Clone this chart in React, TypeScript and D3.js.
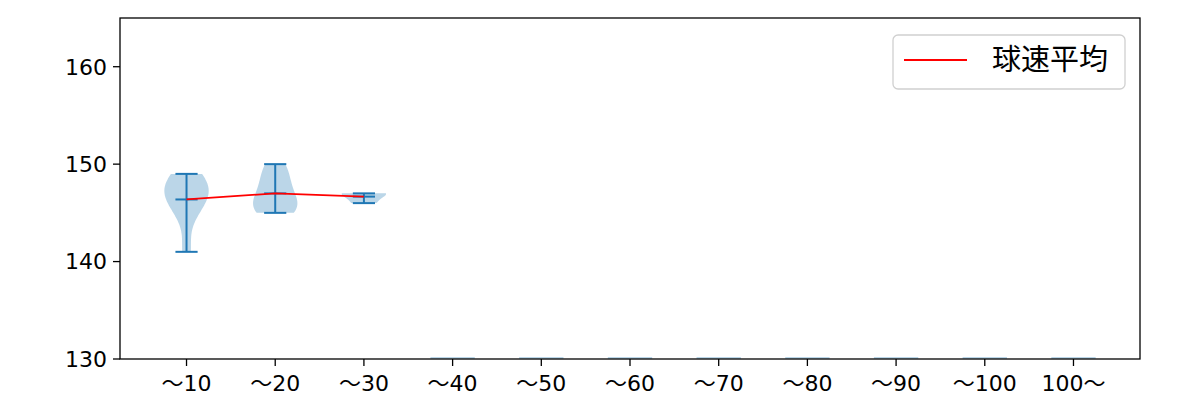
import React from "react";
import * as d3 from "d3";

const categories = ["〜10", "〜20", "〜30", "〜40", "〜50", "〜60", "〜70", "〜80", "〜90", "〜100", "100〜"];
const speeds10 = [141, 145, 146, 147, 147, 148, 148, 149];
const speeds20 = [145, 145, 146, 146, 147, 148, 149, 150];
const speeds30 = [146, 147, 147];
const pitchData: number[][] = [speeds10, speeds20, speeds30, [], [], [], [], [], [], [], []];
const yTicks = [130, 140, 150, 160];
const legendLabel = "球速平均";

const W = 1200, H = 400;
const L = 120, R = 1140, T = 18, B = 359;
const FONT = "'DejaVu Sans', 'Noto Sans CJK JP', sans-serif";
const BLUE = "#1f77b4";
const TICK = 7;

function kdeProfile(vals: number[]) {
  const n = vals.length;
  const mean = d3.mean(vals)!;
  const sd = n > 1 ? Math.sqrt(d3.sum(vals, (v) => (v - mean) ** 2) / (n - 1)) : 1;
  const bw = sd * Math.pow(n, -1 / 5);
  const lo = d3.min(vals)!, hi = d3.max(vals)!;
  const pts = d3.range(100).map((i) => lo + ((hi - lo) * i) / 99);
  const dens = pts.map((p) => d3.sum(vals, (v) => Math.exp(-((p - v) ** 2) / (2 * bw * bw))));
  const m = d3.max(dens)!;
  return pts.map((p, i) => ({ v: p, w: dens[i] / m }));
}

export default function App() {
  const x = d3.scaleLinear().domain([0.25, 11.75]).range([L, R]);
  const y = d3.scaleLinear().domain([130, 165]).range([B, T]);
  const half = x(1.25) - x(1);
  const cap = x(1.125) - x(1);

  const means = pitchData
    .map((d, i) => (d.length ? { pos: i + 1, m: d3.mean(d)! } : null))
    .filter((d) => d !== null) as { pos: number; m: number }[];
  const meanLine = d3
    .line<{ pos: number; m: number }>()
    .x((d) => x(d.pos))
    .y((d) => y(d.m));

  return (
    <svg width={W} height={H} style={{ position: "absolute", left: 0, top: 0, background: "#fff" }} fontFamily={FONT}>
      <rect x={0} y={0} width={W} height={H} fill="#fff" />
      {pitchData.map((d, i) => {
        const cx = x(i + 1);
        if (!d.length) {
          return (
            <rect key={i} x={cx - half} y={y(130) - 2} width={2 * half} height={2} fill={BLUE} opacity={0.3} />
          );
        }
        const prof = kdeProfile(d);
        const area = d3
          .area<{ v: number; w: number }>()
          .y((p) => y(p.v))
          .x0((p) => cx - p.w * half)
          .x1((p) => cx + p.w * half);
        const mn = d3.min(d)!, mx = d3.max(d)!, me = d3.mean(d)!;
        return (
          <g key={i}>
            <path d={area(prof)!} fill={BLUE} fillOpacity={0.3} stroke="none" />
            <line x1={cx} x2={cx} y1={y(mn)} y2={y(mx)} stroke={BLUE} strokeWidth={2} />
            {[mn, mx, me].map((v, k) => (
              <line key={k} x1={cx - cap} x2={cx + cap} y1={y(v)} y2={y(v)} stroke={BLUE} strokeWidth={2} />
            ))}
          </g>
        );
      })}
      <path d={meanLine(means)!} fill="none" stroke="red" strokeWidth={1.8} />
      <rect x={L} y={T} width={R - L} height={B - T} fill="none" stroke="#000" strokeWidth={1.3} />
      {yTicks.map((t) => (
        <g key={t}>
          <line x1={L - TICK} x2={L} y1={y(t)} y2={y(t)} stroke="#000" strokeWidth={1.3} />
          <text x={L - TICK - 6} y={y(t)} dy="0.36em" textAnchor="end" fontSize={22}>
            {t}
          </text>
        </g>
      ))}
      {categories.map((c, i) => (
        <g key={c}>
          <line x1={x(i + 1)} x2={x(i + 1)} y1={B} y2={B + TICK} stroke="#000" strokeWidth={1.3} />
          <text x={x(i + 1)} y={B + TICK + 7} dy="0.8em" textAnchor="middle" fontSize={22}>
            {c}
          </text>
        </g>
      ))}
      <g>
        <rect x={893} y={35} width={232} height={54} rx={5} fill="#fff" fillOpacity={0.8} stroke="#d0d0d0" strokeWidth={1.3} />
        <line x1={904} x2={967} y1={60} y2={60} stroke="red" strokeWidth={1.8} />
        <text x={992} y={59.5} dy="0.35em" fontSize={29}>
          {legendLabel}
        </text>
      </g>
    </svg>
  );
}
